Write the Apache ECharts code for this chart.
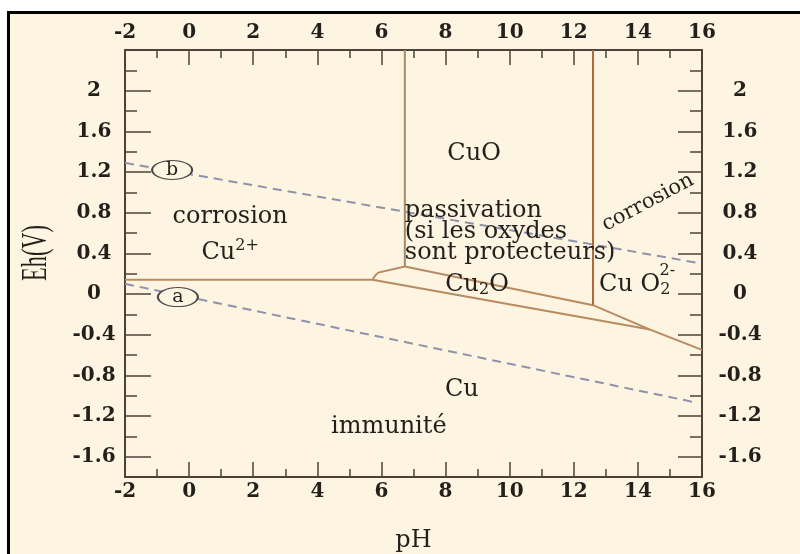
<!DOCTYPE html>
<html>
<head>
<meta charset="utf-8">
<script src="https://cdn.jsdelivr.net/npm/echarts@6/dist/echarts.min.js"></script>
<style>
  html, body { margin: 0; padding: 0; background: #fff; }
  #chart { width: 800px; height: 554px; }
</style>
</head>
<body>
<div id="chart"></div>
<script>
// axis ticks (pH / Eh)
const phMajor = [-2, 0, 2, 4, 6, 8, 10, 12, 14, 16]
const phMinor = [-1, 1, 3, 5, 7, 9, 11, 13, 15]
const ehMajor = [-1.6, -1.2, -0.8, -0.4, 0, 0.4, 0.8, 1.2, 1.6, 2]
const ehMinor = [-1.4, -1.0, -0.6, -0.2, 0.2, 0.6, 1.0, 1.4, 1.8, 2.2]

// domain boundaries [pH, Eh]
const cuIonCu = [[-2, 0.14], [5.72, 0.14], [5.8, 0.18], [5.9, 0.21], [6.73, 0.27]]
const cuoLeft = [[6.73, 0.27], [6.73, 2.4]]
const cuoCu2o = [[6.73, 0.27], [12.6, -0.11]]
const cuoRight = [[12.6, -0.11], [12.6, 2.4]]
const cuo2Lower = [[12.6, -0.11], [14.38, -0.35], [16, -0.55]]
const cu2oCu = [[5.72, 0.14], [14.38, -0.35]]

// water stability lines (a) and (b)
const waterA = [[-2, 0.1], [15.7, -1.06]]
const waterB = [[-2, 1.29], [15.8, 0.31]]
const circleLabels = [['a', -0.35, -0.03], ['b', -0.53, 1.22]]

// region labels: [text, pH, Eh]
const centerLabels = [
  ['CuO', 8.89, 1.38],
  ['corrosion', 1.28, 0.76],
  ['{n|Cu}{sup|2+}', 1.28, 0.41],
  ['{n|Cu}{sub|2}{n|O}', 8.98, 0.09],
  ['{n|Cu O}{sub|2}', 13.9, 0.09],
  ['{sup|2-}', 14.92, 0.17],
  ['Cu', 8.51, -0.94],
  ['immunité', 6.23, -1.31]
]
const leftLabels = [['passivation\n(si les oxydes\nsont protecteurs)', 6.73, 0.61]]
const tiltedLabels = [['corrosion', 14.31, 0.9]]

const bg = '#fdf4e1'
const axisColor = '#4d4238'
const ink = '#231f1b'
const serif = 'DejaVu Serif'
const tickFont = { fontFamily: serif, fontSize: 20, fontWeight: 'bold', color: ink }
const textRich = {
  n: { fontFamily: serif, fontSize: 24, color: ink },
  sup: { fontFamily: serif, fontSize: 16, color: ink, padding: [0, 0, 12, 0] },
  sub: { fontFamily: serif, fontSize: 16, color: ink, padding: [10, 0, 0, 0] }
}

function fmt(v) {
  return String(Number(v.toFixed(1)))
}

function majorAxis(pos, ticks, min, max, extra) {
  return Object.assign({
    type: 'value', position: pos, min, max,
    axisLine: { show: true, onZero: false, lineStyle: { color: axisColor, width: 2 } },
    axisTick: { show: true, inside: true, customValues: ticks, lineStyle: { color: axisColor, width: 1.5 } },
    axisLabel: Object.assign({ customValues: ticks, formatter: fmt }, tickFont),
    splitLine: { show: false }
  }, extra)
}

function minorAxis(pos, ticks, min, max, len) {
  return {
    type: 'value', position: pos, min, max,
    axisLine: { show: false, onZero: false },
    axisTick: { show: true, inside: true, length: len, customValues: ticks, lineStyle: { color: axisColor, width: 1.5 } },
    axisLabel: { show: false },
    splitLine: { show: false }
  }
}

function boundary(data, color) {
  return {
    type: 'line', data, showSymbol: false, symbol: 'none', z: 3,
    lineStyle: { color: color || '#b88b61', width: 2 }
  }
}

function dashed(data) {
  return {
    type: 'line', data, showSymbol: false, symbol: 'none', z: 2,
    lineStyle: { color: '#8f92ab', width: 2, type: [9, 6] }
  }
}

function textSeries(items, label) {
  return {
    type: 'scatter', symbolSize: 0, z: 6, silent: true,
    itemStyle: { opacity: 1 },
    data: items.map(d => ({ value: [d[1], d[2]], name: d[0] })),
    label: Object.assign({
      show: true, position: 'inside', formatter: p => p.name,
      fontFamily: serif, fontSize: 24, color: ink, rich: textRich
    }, label)
  }
}

const chart = echarts.init(document.getElementById('chart'), null, { renderer: 'canvas' })
chart.setOption({
  backgroundColor: '#ffffff',
  animation: false,
  graphic: [
    { type: 'rect', z: -10, shape: { x: 8.5, y: 12.5, width: 820, height: 580 },
      style: { fill: bg, stroke: '#000', lineWidth: 3 } },
    { type: 'text', z: 10, x: 37, y: 253, rotation: Math.PI / 2, scaleX: 0.62,
      style: { text: 'Eh(V)', font: '36px "Liberation Serif"', fill: ink, align: 'center', verticalAlign: 'middle' } }
  ],
  grid: { left: 125, right: 98, top: 50, bottom: 77, containLabel: false, outerBoundsMode: 'none' },
  xAxis: [
    majorAxis('bottom', phMajor, -2, 16, {
      axisTick: { show: true, inside: true, length: 15, customValues: phMajor, lineStyle: { color: axisColor, width: 1.5 } },
      axisLabel: Object.assign({ customValues: phMajor, formatter: fmt, margin: 5 }, tickFont),
      name: 'pH', nameLocation: 'middle', nameGap: 52,
      nameTextStyle: { fontFamily: serif, fontSize: 24, color: ink }
    }),
    minorAxis('bottom', phMinor, -2, 16, 8),
    majorAxis('top', phMajor, -2, 16, {
      axisTick: { show: true, inside: true, length: 15, customValues: phMajor, lineStyle: { color: axisColor, width: 1.5 } },
      axisLabel: Object.assign({ customValues: phMajor, formatter: fmt, margin: 7 }, tickFont)
    }),
    minorAxis('top', phMinor, -2, 16, 8)
  ],
  yAxis: [
    majorAxis('left', ehMajor, -1.8, 2.4, {
      axisTick: { show: true, inside: true, length: 26, customValues: ehMajor, lineStyle: { color: axisColor, width: 1.5 } },
      axisLabel: Object.assign({ customValues: ehMajor, formatter: fmt, margin: 31, align: 'center' }, tickFont)
    }),
    minorAxis('left', ehMinor, -1.8, 2.4, 12),
    majorAxis('right', ehMajor, -1.8, 2.4, {
      axisTick: { show: true, inside: true, length: 24, customValues: ehMajor, lineStyle: { color: axisColor, width: 1.5 } },
      axisLabel: Object.assign({ customValues: ehMajor, formatter: fmt, margin: 38, align: 'center' }, tickFont)
    }),
    minorAxis('right', ehMinor, -1.8, 2.4, 12)
  ],
  series: [
    dashed(waterA),
    dashed(waterB),
    boundary(cuIonCu),
    boundary(cuoLeft, '#a98866'),
    boundary(cuoCu2o),
    boundary(cuoRight, '#b4663c'),
    boundary(cuo2Lower),
    boundary(cu2oCu),
    {
      type: 'scatter', z: 5, silent: true,
      symbol: 'circle', symbolSize: [40, 19],
      data: circleLabels.map(d => ({ value: [d[1], d[2]], name: d[0] })),
      itemStyle: { color: bg, borderColor: '#4a4a4a', borderWidth: 1.5, opacity: 1 },
      label: { show: true, position: 'inside', formatter: p => p.name, fontFamily: serif, fontSize: 19, color: ink }
    },
    textSeries(centerLabels, {}),
    textSeries(leftLabels, { position: 'right', distance: 0, align: 'left', lineHeight: 21 }),
    textSeries(tiltedLabels, { rotate: 28, fontSize: 21 })
  ]
})
</script>
</body>
</html>
